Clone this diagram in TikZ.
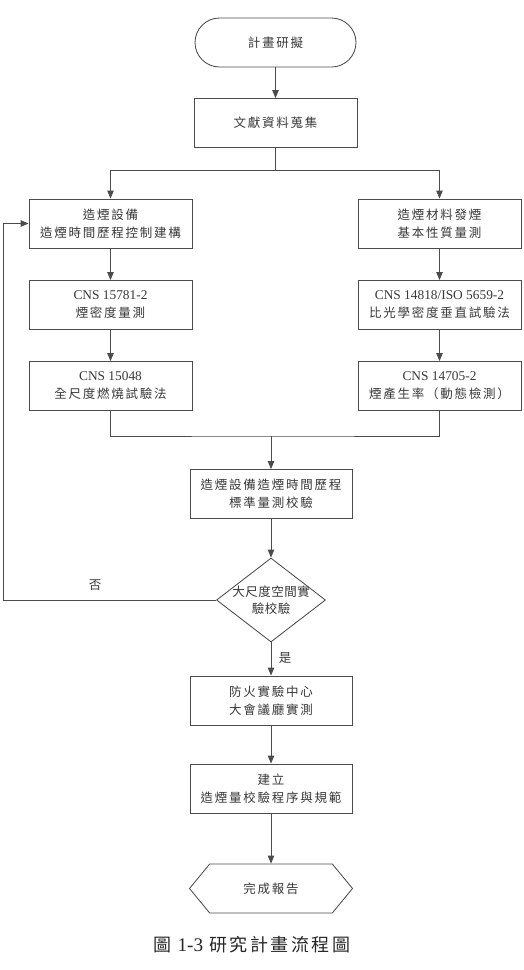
\documentclass[tikz,border=0pt]{standalone}
\usepackage{fontspec}
\setmainfont{Liberation Serif}[Scale=1.07]
\newfontfamily\cjk[LetterSpace=14]{Noto Sans CJK TC}
\newfontfamily\cjkn[LetterSpace=4]{Noto Sans CJK TC}
\usetikzlibrary{arrows.meta,shapes.geometric,shapes.symbols}
\begin{document}
\begin{tikzpicture}[x=1pt,y=-1pt,
  line/.style={draw=black!70, line width=0.85pt},
  arr/.style={line, -{Triangle[length=8pt,width=6.5pt]}},
  txt/.style={text=black!78, font=\fontsize{12.5}{18}\selectfont},
  box/.style={line, txt, rectangle, minimum width=163pt, minimum height=49pt, align=center, inner sep=0pt},
  term/.style={line, txt, rectangle, rounded corners=24.5pt, minimum width=161pt, minimum height=49pt, inner sep=0pt},
  decision/.style={line, diamond, minimum width=109pt, minimum height=84pt, inner sep=0pt},
  finish/.style={line, txt, signal, signal to=west and east, signal pointer angle=101, minimum width=163pt, minimum height=49pt, inner sep=0pt}
]
\useasboundingbox (0,0) rectangle (524,970);

\node[term] (start) at (275.5,42.5) {\cjk 計畫研擬};
\node[box] (lit) at (275.5,123) {\cjk 文獻資料蒐集};

\node[box] (l1) at (110.5,223.5) {\cjk 造煙設備\\\cjk 造煙時間歷程控制建構};
\node[box] (l2) at (110.5,305) {CNS 15781-2\\\cjk 煙密度量測};
\node[box] (l3) at (110.5,386) {CNS 15048\\\cjk 全尺度燃燒試驗法};

\node[box] (r1) at (439.5,223.5) {\cjk 造煙材料發煙\\\cjk 基本性質量測};
\node[box] (r2) at (439.5,305) {CNS 14818/ISO 5659-2\\\cjk 比光學密度垂直試驗法};
\node[box] (r3) at (439.5,386) {CNS 14705-2\\\cjk 煙產生率（動態檢測）};

\node[box, minimum width=162pt] (mid) at (271,494) {\cjk 造煙設備造煙時間歷程\\\cjk 標準量測校驗};

\node[decision] (d) at (271,600) {};
\node[txt, align=center, inner sep=0pt, font=\fontsize{12.5}{17}\selectfont] (dt) at (d.center) {\cjkn 大尺度空間實\\\cjkn 驗校驗};

\node[box, minimum width=162pt] (fire) at (271,700.5) {\cjk 防火實驗中心\\\cjk 大會議廳實測};
\node[box, minimum width=162pt] (build) at (271,788.5) {\cjk 建立\\\cjk 造煙量校驗程序與規範};
\node[finish] (end) at (271,888.5) {\cjk 完成報告};

\node[txt] (no) at (95,585) {\cjk 否};
\node[txt] (yes) at (285,658) {\cjk 是};

\node[text=black!85, font=\fontsize{18}{20}\selectfont] (cap) at (252,945) {{\cjk 圖}\hspace{6pt}1-3\hspace{6pt}{\cjk 研究計畫流程圖}};

\coordinate (split) at (275.5,170);
\coordinate (merge) at (271,436);
\coordinate (fb) at (3,600);

\draw[arr] (start) -- (lit);
\draw[line] (lit.south) -- (split);
\draw[arr] (split) -| (l1.north);
\draw[arr] (split) -| (r1.north);
\draw[arr] (l1) -- (l2);
\draw[arr] (l2) -- (l3);
\draw[arr] (r1) -- (r2);
\draw[arr] (r2) -- (r3);
\draw[line] (l3.south) |- (merge) -| (r3.south);
\draw[arr] (merge) -- (mid.north);
\draw[arr] (mid) -- (d.north);
\draw[arr] (d.west) -- (fb) |- (l1.west);
\draw[arr] (d.south) -- (fire.north);
\draw[arr] (fire) -- (build);
\draw[arr] (build) -- (end.north);
\end{tikzpicture}
\end{document}
